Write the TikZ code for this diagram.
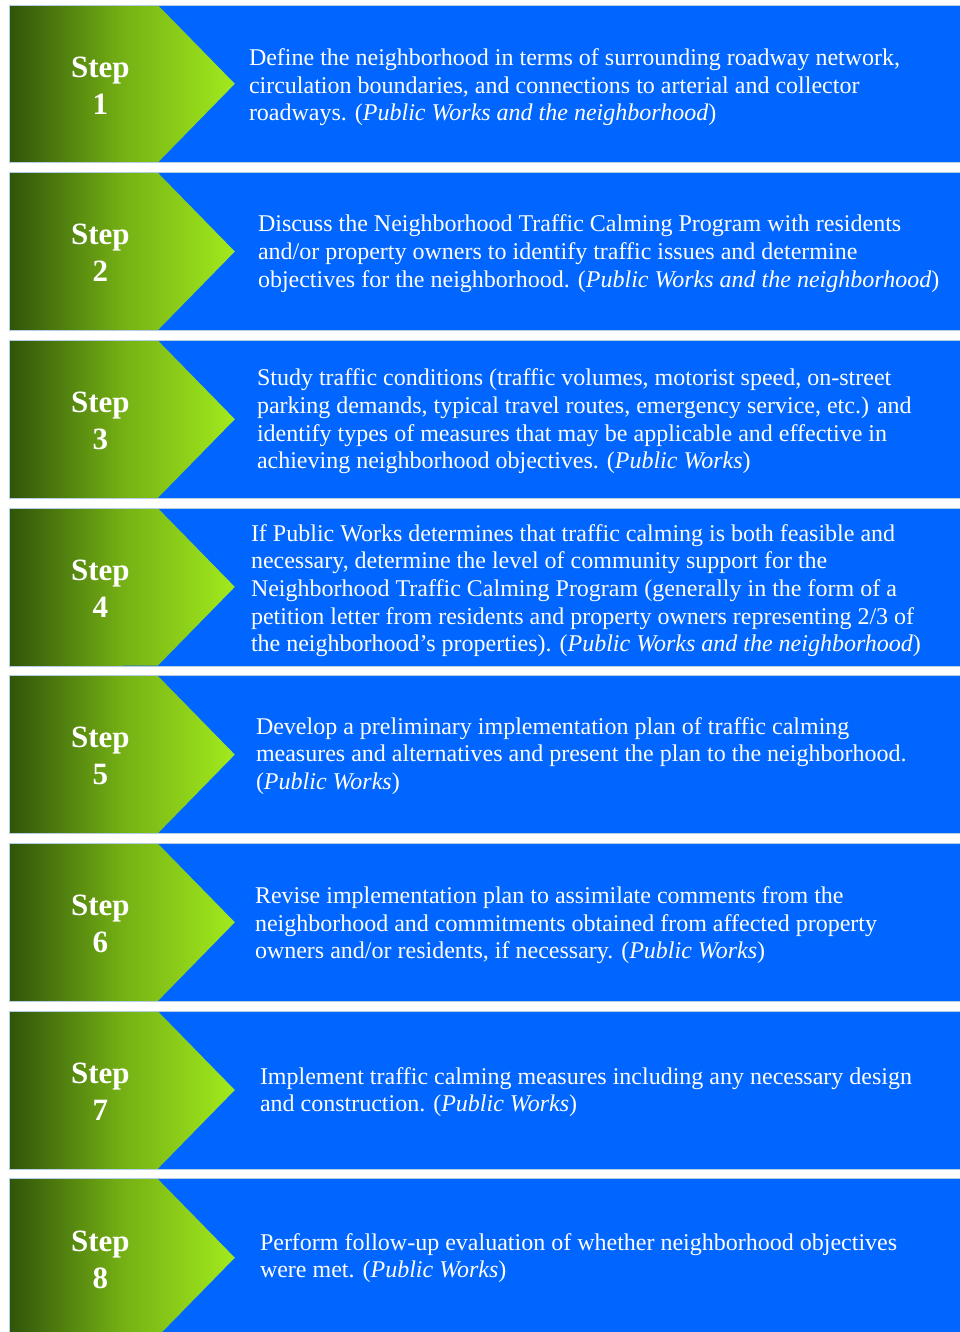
\documentclass[tikz,border=0pt]{standalone}
\usepackage{fontspec}
\setmainfont{Liberation Serif}
\usetikzlibrary{positioning}

\definecolor{stepblue}{HTML}{0066FF}
\definecolor{rowedge}{HTML}{B4CDE6}
\definecolor{chevdark}{HTML}{30540A}
\definecolor{chevmid}{HTML}{74B014}
\definecolor{chevlight}{HTML}{A2EA1E}

\tikzset{
  row/.style={rectangle, fill=stepblue, minimum width=951pt, minimum height=157.5pt, inner sep=0pt},
  edgeline/.style={draw=rowedge, line width=1pt},
  steplabel/.style={text=white, font=\fontsize{31}{37}\selectfont\bfseries, align=center, inner sep=0pt},
  desc/.style={text=white, font=\fontsize{24}{27.6}\selectfont, align=left, inner sep=0pt, anchor=west},
}

\begin{document}
\begin{tikzpicture}[x=1pt, y=1pt, node distance=167.7pt, on grid]
  \useasboundingbox[fill=white] (0,0) rectangle (960,-1332);
  % the eight bars
  \node[row] (row1) at (485,-84) {};
  \foreach \i [count=\j from 2] in {1,...,7}
    \node[row, below=of row\i] (row\j) {};
  % green arrows with the step numbers
  \foreach \i in {1,...,8} {
    \shade[left color=chevdark, right color=chevlight, middle color=chevmid]
      (row\i.north west) -- ++(148.5,0) -- ++(77,-78.75) -- ++(-77,-78.75) -- (row\i.south west) -- cycle;
    \draw[edgeline] (row\i.south east) -- (row\i.south west) -- (row\i.north west) -- (row\i.north east);
    \node[steplabel] (step\i) at ([xshift=91pt, yshift=-1.5pt]row\i.west) {Step\\\i};
  }
  % descriptions
  \node[desc] (txt1) at ([xshift=239.5pt, yshift=-3.5pt]row1.west)
    {Define the neighborhood in terms of surrounding roadway network,\\
     circulation boundaries, and connections to arterial and collector\\
     roadways. (\textit{Public Works and the neighborhood})};
  \node[desc] (txt2) at ([xshift=248.5pt, yshift=-2pt]row2.west)
    {Discuss the Neighborhood Traffic Calming Program with residents\\
     and/or property owners to identify traffic issues and determine\\
     objectives for the neighborhood. (\textit{Public Works and the neighborhood})};
  \node[desc] (txt3) at ([xshift=247.5pt, yshift=-2pt]row3.west)
    {Study traffic conditions (traffic volumes, motorist speed, on-street\\
     parking demands, typical travel routes, emergency service, etc.) and\\
     identify types of measures that may be applicable and effective in\\
     achieving neighborhood objectives. (\textit{Public Works})};
  \node[desc] (txt4) at ([xshift=241.5pt, yshift=-3.5pt]row4.west)
    {If Public Works determines that traffic calming is both feasible and\\
     necessary, determine the level of community support for the\\
     Neighborhood Traffic Calming Program (generally in the form of a\\
     petition letter from residents and property owners representing 2/3 of\\
     the neighborhood's properties). (\textit{Public Works and the neighborhood})};
  \node[desc] (txt5) at ([xshift=246.5pt, yshift=-1pt]row5.west)
    {Develop a preliminary implementation plan of traffic calming\\
     measures and alternatives and present the plan to the neighborhood.\\
     (\textit{Public Works})};
  \node[desc] (txt6) at ([xshift=245.5pt, yshift=-3pt]row6.west)
    {Revise implementation plan to assimilate comments from the\\
     neighborhood and commitments obtained from affected property\\
     owners and/or residents, if necessary. (\textit{Public Works})};
  \node[desc] (txt7) at ([xshift=250.5pt, yshift=-2pt]row7.west)
    {Implement traffic calming measures including any necessary design\\
     and construction. (\textit{Public Works})};
  \node[desc] (txt8) at ([xshift=250.5pt]row8.west)
    {Perform follow-up evaluation of whether neighborhood objectives\\
     were met. (\textit{Public Works})};
\end{tikzpicture}
\end{document}
